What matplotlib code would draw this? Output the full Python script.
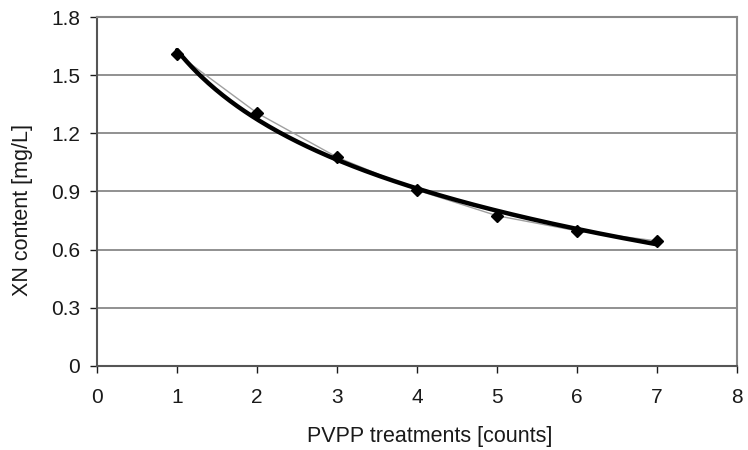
import numpy as np
import matplotlib
matplotlib.use("Agg")
import matplotlib.pyplot as plt

treatments = [1, 2, 3, 4, 5, 6, 7]
xn_content = [1.61, 1.305, 1.077, 0.907, 0.775, 0.697, 0.645]
x_ticks = [0, 1, 2, 3, 4, 5, 6, 7, 8]
y_ticks = [0, 0.3, 0.6, 0.9, 1.2, 1.5, 1.8]
y_tick_labels = ["0", "0.3", "0.6", "0.9", "1.2", "1.5", "1.8"]

plt.rcParams['font.family'] = ['Liberation Sans', 'DejaVu Sans']

fig = plt.figure(figsize=(7.48, 4.5), dpi=100)
ax = fig.add_axes([0.1297, 0.1867, 0.8556, 0.7755])

ax.set_xlim(0, 8)
ax.set_ylim(0, 1.8)

for yv in y_ticks[1:]:
    ax.axhline(yv, color='#888888', lw=1.3, zorder=1)

# logarithmic trendline fitted to the data (Excel-style)
b, a = np.polyfit(np.log(treatments), xn_content, 1)
xt = np.linspace(treatments[0], treatments[-1], 200)
ax.plot(xt, a + b * np.log(xt), color='black', lw=3.2, zorder=3, solid_capstyle='round')

ax.plot(treatments, xn_content, color='#a0a0a0', lw=1.0, zorder=2)
ax.plot(treatments, xn_content, linestyle='none', marker='D', markersize=6.5,
        color='black', zorder=4)

ax.set_xticks(x_ticks)
ax.set_yticks(y_ticks)
ax.set_yticklabels(y_tick_labels)
ax.tick_params(axis='both', labelsize=15, colors='#1a1a1a', length=5, width=1.0,
               direction='out')
ax.tick_params(axis='y', pad=7)
ax.tick_params(axis='x', pad=11)
for t in ax.get_xticklines() + ax.get_yticklines():
    t.set_color('#555555')

ax.spines['left'].set_color('#555555')
ax.spines['bottom'].set_color('#555555')
ax.spines['left'].set_linewidth(1.5)
ax.spines['bottom'].set_linewidth(1.5)
ax.spines['right'].set_color('#888888')
ax.spines['top'].set_color('#888888')
ax.spines['right'].set_linewidth(1.5)
ax.spines['top'].set_linewidth(1.5)

ax.set_xlabel('PVPP treatments [counts]', fontsize=15.5, color='#1a1a1a')
ax.set_ylabel('XN content [mg/L]', fontsize=15.5, color='#1a1a1a')
ax.xaxis.set_label_coords(0.52, -0.172)
ax.yaxis.set_label_coords(-0.1, 0.447)

fig.savefig('out.png', dpi=100)
